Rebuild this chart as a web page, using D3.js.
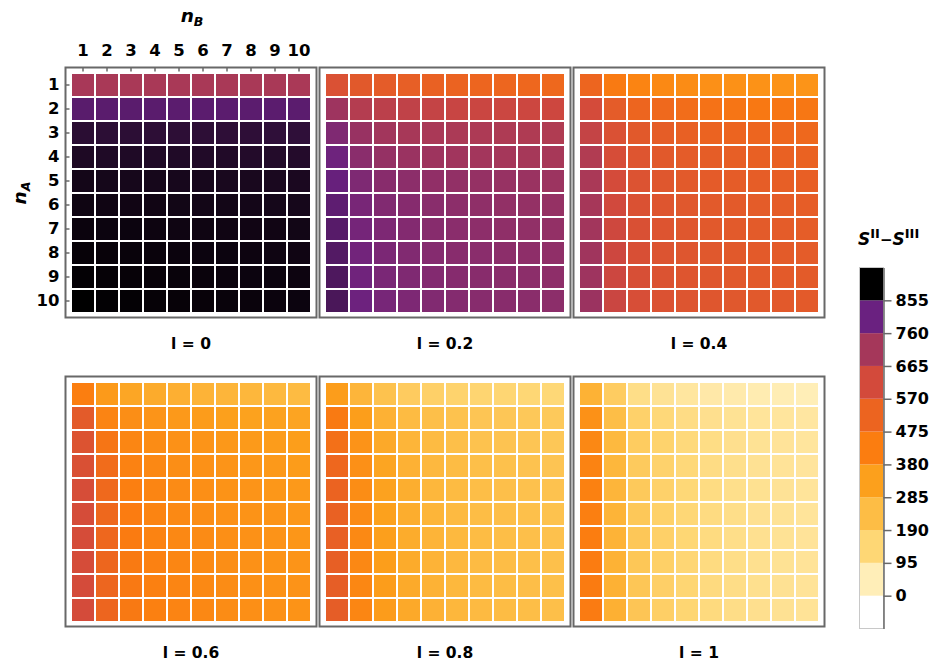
<!DOCTYPE html>
<html>
<head>
<meta charset="utf-8">
<script src="https://cdn.jsdelivr.net/npm/d3@7"></script>
<style>
  html, body { margin: 0; padding: 0; background: #fff; }
  svg text { font-family: "DejaVu Sans", "Liberation Sans", Arial, sans-serif; font-weight: bold; fill: #000; }
</style>
</head>
<body>
<svg id="chart" width="936" height="664"></svg>
<script>
// S^II - S^III on the (n_A, n_B) grid, one panel per value of l.
// Each matrix: rows are n_A = 1..10 (top to bottom), columns n_B = 1..10.
const nA = [1, 2, 3, 4, 5, 6, 7, 8, 9, 10];
const nB = [1, 2, 3, 4, 5, 6, 7, 8, 9, 10];
const lValues = ["0", "0.2", "0.4", "0.6", "0.8", "1"];

const diff_l0 = [
  [753, 752, 752, 752, 752, 751, 751, 751, 751, 750],
  [870, 869, 869, 869, 868, 868, 868, 868, 868, 868],
  [912, 911, 911, 910, 910, 910, 909, 909, 908, 908],
  [923, 922, 922, 921, 921, 920, 920, 919, 919, 918],
  [932, 931, 930, 930, 929, 929, 928, 928, 927, 926],
  [937, 936, 935, 935, 934, 933, 933, 932, 931, 930],
  [940, 939, 939, 938, 937, 937, 936, 935, 935, 934],
  [944, 943, 942, 941, 940, 939, 939, 938, 937, 936],
  [946, 945, 944, 943, 942, 941, 940, 939, 939, 938],
  [950, 947, 946, 945, 944, 943, 942, 941, 940, 939]
];
const diff_l02 = [
  [640, 610, 600, 590, 580, 572, 566, 562, 558, 555],
  [772, 729, 714, 704, 696, 688, 684, 682, 680, 678],
  [821, 781, 765, 755, 750, 747, 744, 741, 739, 737],
  [848, 804, 786, 778, 771, 767, 764, 760, 757, 755],
  [858, 822, 806, 800, 793, 790, 785, 782, 777, 774],
  [866, 832, 818, 810, 805, 800, 796, 791, 788, 785],
  [872, 838, 824, 815, 808, 804, 799, 795, 792, 789],
  [876, 842, 827, 818, 812, 807, 804, 800, 797, 794],
  [880, 846, 830, 821, 815, 810, 806, 803, 800, 797],
  [884, 850, 834, 824, 818, 813, 808, 806, 803, 800]
];
const diff_l04 = [
  [565, 486, 456, 442, 434, 423, 421, 418, 415, 412],
  [660, 600, 565, 551, 535, 515, 505, 495, 500, 498],
  [695, 640, 610, 595, 585, 575, 570, 565, 558, 555],
  [735, 655, 625, 610, 600, 595, 590, 585, 580, 578],
  [750, 662, 632, 618, 608, 602, 598, 594, 590, 587],
  [758, 670, 638, 624, 614, 608, 605, 600, 597, 594],
  [765, 675, 642, 628, 618, 612, 608, 604, 600, 597],
  [768, 678, 645, 630, 622, 615, 610, 606, 603, 600],
  [772, 680, 648, 633, 624, 618, 612, 608, 606, 603],
  [776, 683, 650, 635, 626, 620, 615, 612, 609, 606]
];
const diff_l06 = [
  [472, 396, 360, 344, 330, 318, 311, 305, 298, 292],
  [604, 455, 430, 412, 398, 390, 380, 375, 372, 367],
  [631, 505, 450, 435, 420, 412, 402, 396, 390, 385],
  [642, 540, 462, 444, 430, 420, 412, 405, 398, 392],
  [654, 550, 470, 452, 438, 425, 416, 412, 405, 398],
  [657, 555, 478, 456, 442, 432, 420, 416, 412, 405],
  [658, 558, 482, 460, 446, 436, 426, 420, 414, 408],
  [659, 561, 486, 463, 450, 440, 430, 422, 416, 412],
  [660, 563, 490, 466, 452, 442, 433, 424, 418, 414],
  [662, 565, 492, 468, 455, 445, 435, 427, 420, 416]
];
const diff_l08 = [
  [388, 310, 267, 234, 216, 205, 197, 193, 190, 187],
  [485, 385, 325, 291, 278, 268, 256, 252, 245, 241],
  [525, 415, 350, 312, 291, 278, 268, 262, 255, 250],
  [560, 423, 365, 325, 300, 287, 278, 272, 265, 258],
  [575, 432, 372, 335, 306, 292, 282, 276, 270, 265],
  [582, 438, 378, 338, 312, 295, 285, 280, 273, 268],
  [586, 443, 382, 342, 315, 298, 288, 282, 276, 270],
  [589, 446, 385, 345, 318, 300, 290, 284, 278, 273],
  [592, 448, 388, 348, 321, 303, 292, 286, 280, 275],
  [595, 450, 390, 350, 323, 305, 294, 288, 282, 277]
];
const diff_l1 = [
  [322, 230, 163, 145, 130, 118, 112, 105, 100, 96],
  [420, 282, 212, 185, 168, 155, 146, 138, 133, 128],
  [445, 298, 232, 205, 182, 167, 155, 146, 139, 133],
  [458, 306, 238, 208, 185, 169, 157, 148, 141, 135],
  [465, 311, 242, 211, 187, 171, 159, 150, 143, 137],
  [470, 315, 245, 213, 189, 173, 161, 151, 144, 138],
  [475, 318, 248, 215, 191, 174, 162, 152, 145, 139],
  [478, 321, 250, 217, 192, 175, 163, 153, 146, 140],
  [481, 324, 252, 218, 193, 176, 164, 154, 147, 141],
  [484, 327, 254, 220, 195, 177, 165, 155, 148, 142]
];
const panelData = [diff_l0, diff_l02, diff_l04, diff_l06, diff_l08, diff_l1];

// Colour bar ticks and palette stops
const legendTicks = [0, 95, 190, 285, 380, 475, 570, 665, 760, 855];
const colorStops = [0, 95, 190, 285, 380, 475, 570, 665, 760, 855, 950];
const colorRange = ["#ffffff", "#ffeeb8", "#fed775", "#fdbd45", "#fca01c", "#fb7d10",
                    "#ec6420", "#d34a3b", "#a5375a", "#6a2180", "#000000"];

const color = d3.scaleLinear().domain(colorStops).range(colorRange)
  .interpolate(d3.interpolateRgb).clamp(true);

const FONT = "DejaVu Sans, Liberation Sans, Arial, sans-serif";
const svg = d3.select("#chart");

// Panel geometry
const frameW = 251, frameH = 250, inset = 6.5, grid = 238;
const colX = [65.5, 319.5, 573.5];
const rowY = [67.5, 376.5];

function styleAxisText(sel, size) {
  sel.selectAll(".tick text").attr("font-size", size)
    .style("font-family", FONT).style("font-weight", "bold");
}

panelData.forEach((mat, i) => {
  const fx = colX[i % 3], fy = rowY[Math.floor(i / 3)];
  const x = d3.scaleBand().domain(nB).range([fx + inset, fx + inset + grid])
    .paddingInner(1 / 12).paddingOuter(0);
  const y = d3.scaleBand().domain(nA).range([fy + inset, fy + inset + grid])
    .paddingInner(1 / 12).paddingOuter(0);

  const g = svg.append("g").attr("class", "panel");
  const cells = [];
  mat.forEach((row, r) => row.forEach((v, c) => cells.push({ a: nA[r], b: nB[c], v })));

  g.selectAll("rect.cell").data(cells).join("rect")
    .attr("class", "cell")
    .attr("x", d => x(d.b)).attr("y", d => y(d.a))
    .attr("width", x.bandwidth()).attr("height", y.bandwidth())
    .attr("fill", d => color(d.v));

  g.append("rect")
    .attr("x", fx).attr("y", fy).attr("width", frameW).attr("height", frameH)
    .attr("fill", "none").attr("stroke", "#686868").attr("stroke-width", 2);

  g.append("text")
    .attr("x", fx + frameW / 2).attr("y", fy + frameH + 31)
    .attr("text-anchor", "middle").attr("font-size", 15.5)
    .text("l = " + lValues[i]);

  if (i === 0) {
    const top = g.append("g").attr("transform", `translate(0,${fy})`)
      .call(d3.axisTop(x).tickSizeInner(-4).tickSizeOuter(0).tickPadding(12));
    top.select(".domain").remove();
    top.selectAll(".tick line").attr("stroke", "#686868").attr("stroke-width", 1.5);
    styleAxisText(top, 16.5);

    const left = g.append("g").attr("transform", `translate(${fx},0)`)
      .call(d3.axisLeft(y).tickSizeInner(-4).tickSizeOuter(0).tickPadding(6));
    left.select(".domain").remove();
    left.selectAll(".tick line").attr("stroke", "#686868").attr("stroke-width", 1.5);
    styleAxisText(left, 16.5);

    // axis titles
    const tB = g.append("text").attr("x", fx + frameW / 2 + 1).attr("y", 22)
      .attr("text-anchor", "middle").attr("font-size", 18.5).attr("font-style", "italic");
    tB.append("tspan").text("n");
    tB.append("tspan").attr("font-size", 12.5).attr("dy", 4).text("B");

    const tA = g.append("text")
      .attr("transform", `translate(26,${fy + inset + grid / 2}) rotate(-90)`)
      .attr("text-anchor", "middle").attr("font-size", 18.5).attr("font-style", "italic");
    tA.append("tspan").text("n");
    tA.append("tspan").attr("font-size", 12.5).attr("dy", 4).text("A");
  }
});

// Colour bar legend
const barX = 859.5, barW = 24;
const ly = d3.scaleLinear().domain([-95, 950]).range([628.5, 267.5]);
const bands = d3.range(-95, 950, 95).map(lo => ({ lo, hi: lo + 95 }));
const lg = svg.append("g").attr("class", "legend");
lg.selectAll("rect.band").data(bands).join("rect")
  .attr("class", "band")
  .attr("x", barX).attr("width", barW)
  .attr("y", d => ly(d.hi)).attr("height", d => ly(d.lo) - ly(d.hi))
  .attr("fill", d => color(d.hi));
lg.append("rect").attr("x", barX).attr("y", ly(950)).attr("width", barW)
  .attr("height", ly(-95) - ly(950)).attr("fill", "none")
  .attr("stroke", "#c8c8c8").attr("stroke-width", 1);

const lax = lg.append("g").attr("transform", `translate(${barX + barW},0)`)
  .call(d3.axisRight(ly).tickValues(legendTicks).tickSizeInner(8).tickSizeOuter(0).tickPadding(4));
lax.select(".domain").attr("stroke", "#686868").attr("stroke-width", 1.5);
lax.selectAll(".tick line").attr("stroke", "#686868").attr("stroke-width", 1.5);
styleAxisText(lax, 16);

const title = lg.append("text").attr("x", 858).attr("y", 245).attr("font-size", 17);
title.append("tspan").attr("font-style", "italic").text("S");
title.append("tspan").attr("font-size", 13).attr("dy", -7).text("II");
title.append("tspan").attr("dy", 7).attr("font-size", 15).text("\u2212");
title.append("tspan").attr("font-style", "italic").text("S");
title.append("tspan").attr("font-size", 13).attr("dy", -7).text("III");
</script>
</body>
</html>
